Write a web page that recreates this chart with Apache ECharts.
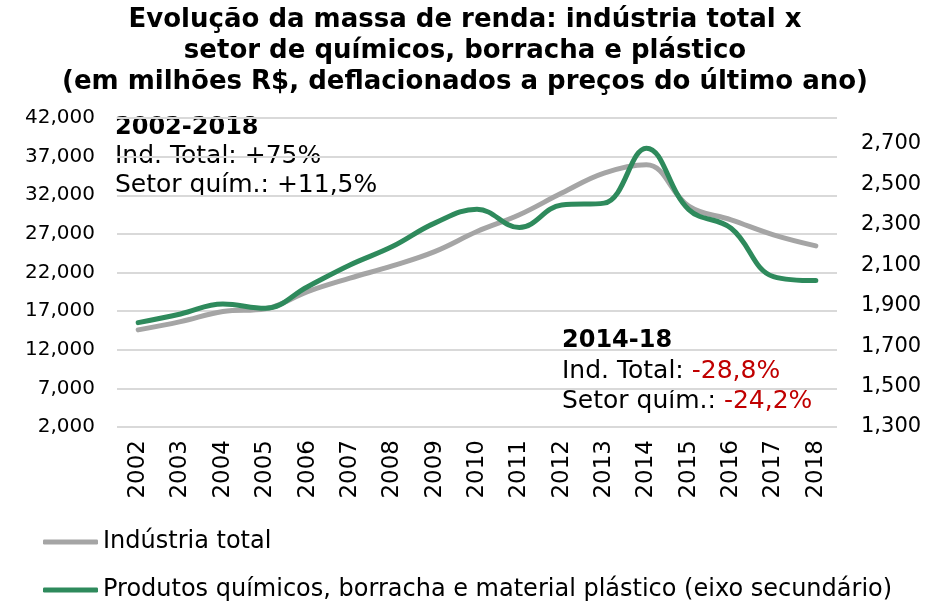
<!DOCTYPE html>
<html>
<head>
<meta charset="utf-8">
<script src="https://cdn.jsdelivr.net/npm/echarts@6/dist/echarts.min.js"></script>
<style>
  html, body { margin: 0; padding: 0; background: #fff; }
  #chart { width: 930px; height: 602px; }
</style>
</head>
<body>
<div id="chart"></div>
<script>
// data
const years = ["2002", "2003", "2004", "2005", "2006", "2007", "2008", "2009", "2010",
  "2011", "2012", "2013", "2014", "2015", "2016", "2017", "2018"];
const industriaTotal = [14570, 15640, 16940, 17300, 19530, 21270, 22860, 24710, 27300,
  29470, 32280, 34870, 35950, 30600, 28820, 26880, 25450];
const setorQuimico = [1816, 1859, 1908, 1887, 1994, 2101, 2192, 2308, 2377,
  2286, 2398, 2407, 2679, 2375, 2283, 2044, 2024];
const leftTicks = [2000, 7000, 12000, 17000, 22000, 27000, 32000, 37000, 42000];
const rightTicks = [1300, 1500, 1700, 1900, 2100, 2300, 2500, 2700];

const font = "DejaVu Sans";
const fmt = v => v.toLocaleString("en-US");

const chart = echarts.init(document.getElementById("chart"));
chart.setOption({
  animation: false,
  title: {
    text: "Evolução da massa de renda: indústria total x\nsetor de químicos, borracha e plástico\n(em milhões R$, deflacionados a preços do último ano)",
    left: "center",
    top: 5,
    padding: 0,
    textStyle: { fontFamily: font, fontSize: 26, fontWeight: "bold", color: "#000", lineHeight: 31 }
  },
  grid: { left: 117, right: 93, top: 118, bottom: 175 },
  legend: {
    orient: "vertical",
    left: 43,
    top: 530,
    padding: 0,
    itemGap: 24,
    itemWidth: 55,
    itemHeight: 5,
    icon: "roundRect",
    textStyle: { fontFamily: font, fontSize: 24, color: "#000" },
    data: ["Indústria total", "Produtos químicos, borracha e material plástico (eixo secundário)"]
  },
  xAxis: {
    type: "category",
    data: years,
    axisLine: { show: false },
    axisTick: { show: false },
    axisLabel: { rotate: 90, margin: 13, fontFamily: font, fontSize: 23, color: "#000" }
  },
  yAxis: [
    {
      type: "value",
      min: 2000,
      max: 42000,
      axisLine: { show: false },
      axisTick: { show: false, customValues: leftTicks },
      axisLabel: { customValues: leftTicks, margin: 22, fontFamily: font, fontSize: 20, color: "#000", formatter: fmt },
      splitLine: { show: true, lineStyle: { color: "#d9d9d9", width: 2 } }
    },
    {
      type: "value",
      min: 1300,
      max: 2828,
      position: "right",
      axisLine: { show: false },
      axisTick: { show: false, customValues: rightTicks },
      axisLabel: { customValues: rightTicks, margin: 24, fontFamily: font, fontSize: 21, color: "#000", formatter: fmt },
      splitLine: { show: false }
    }
  ],
  series: [
    {
      name: "Indústria total",
      type: "line",
      data: industriaTotal,
      smooth: 0.4,
      symbol: "none",
      lineStyle: { color: "#a5a5a5", width: 5, cap: "round" },
      itemStyle: { color: "#a5a5a5" }
    },
    {
      name: "Produtos químicos, borracha e material plástico (eixo secundário)",
      type: "line",
      yAxisIndex: 1,
      data: setorQuimico,
      smooth: 0.4,
      symbol: "none",
      lineStyle: { color: "#2e8a5c", width: 5, cap: "round" },
      itemStyle: { color: "#2e8a5c" }
    }
  ],
  graphic: [
    {
      type: "text",
      left: 115,
      top: 113,
      style: {
        text: "{b|2002-2018}\nInd. Total: +75%\nSetor quím.: +11,5%",
        font: "25px " + font,
        fill: "#000",
        lineHeight: 29,
        rich: { b: { fontFamily: font, fontSize: 24, fontWeight: "bold", lineHeight: 29 } }
      }
    },
    {
      type: "text",
      left: 562,
      top: 326,
      style: {
        text: "{b|2014-18}\nInd. Total: {r|-28,8%}\nSetor quím.: {r|-24,2%}",
        font: "25px " + font,
        fill: "#000",
        lineHeight: 30,
        rich: {
          b: { fontFamily: font, fontSize: 24, fontWeight: "bold", lineHeight: 30 },
          r: { fontFamily: font, fontSize: 25, fill: "#c00000", color: "#c00000", lineHeight: 30 }
        }
      }
    }
  ]
});
</script>
</body>
</html>
